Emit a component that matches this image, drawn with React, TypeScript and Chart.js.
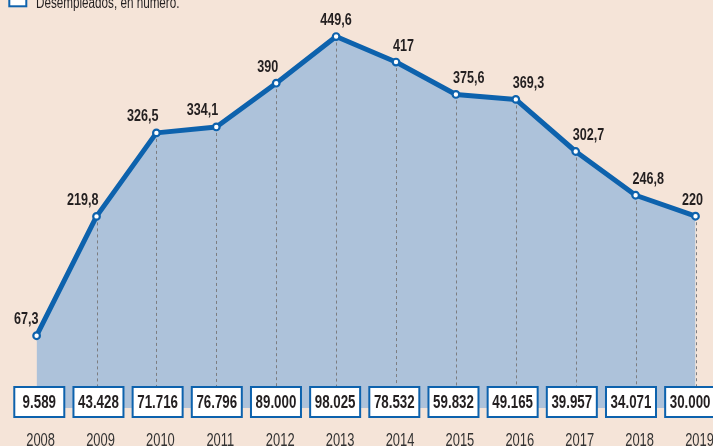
import React, { useEffect, useRef } from 'react';
import { Chart, registerables } from 'chart.js';

Chart.register(...registerables);

// ---- Data ----
const years = [2008, 2009, 2010, 2011, 2012, 2013, 2014, 2015, 2016, 2017, 2018, 2019];
const lineValues = [67.3, 219.8, 326.5, 334.1, 390, 449.6, 417, 375.6, 369.3, 302.7, 246.8, 220];
const unemployedCounts = [9589, 43428, 71716, 76796, 89000, 98025, 78532, 59832, 49165, 39957, 34071, 30000];
const legendLabel = 'Desempleados, en número.';

// ---- Styles ----
const BG = '#f5e4d8';
const AREA = '#adc2da';
const BLUE = '#0d62ad';
const TEXT = '#231f20';
const FONT = '"Liberation Sans", Arial, sans-serif';

function fmtDecimal(v: number): string {
  return Number.isInteger(v) ? String(v) : v.toFixed(1).replace('.', ',');
}
function fmtThousands(v: number): string {
  return String(v).replace(/\B(?=(\d{3})+(?!\d))/g, '.');
}

function drawText(
  ctx: CanvasRenderingContext2D,
  text: string,
  x: number,
  y: number,
  align: 'left' | 'right' | 'center',
  font: string,
  sx: number,
  color: string
) {
  ctx.save();
  ctx.font = font;
  ctx.fillStyle = color;
  ctx.textBaseline = 'alphabetic';
  ctx.textAlign = 'left';
  const w = ctx.measureText(text).width * sx;
  const left = align === 'left' ? x : align === 'right' ? x - w : x - w / 2;
  ctx.translate(left, y);
  ctx.scale(sx, 1);
  ctx.fillText(text, 0, 0);
  ctx.restore();
}

const decorPlugin = {
  id: 'decor',
  beforeDatasetsDraw(chart: any) {
    const ctx = chart.ctx as CanvasRenderingContext2D;
    const xs = chart.scales.x;
    const ys = chart.scales.y;
    ctx.save();
    ctx.strokeStyle = '#7d7d80';
    ctx.lineWidth = 1;
    ctx.setLineDash([3, 3]);
    years.forEach((yr, i) => {
      if (i === 0) return;
      const px = Math.round(xs.getPixelForValue(yr)) + 0.5;
      const py = ys.getPixelForValue(lineValues[i]);
      ctx.beginPath();
      ctx.moveTo(px, py);
      ctx.lineTo(px, ys.getPixelForValue(-25));
      ctx.stroke();
    });
    ctx.restore();
  },
  afterDatasetsDraw(chart: any) {
    const ctx = chart.ctx as CanvasRenderingContext2D;
    const xs = chart.scales.x;
    const ys = chart.scales.y;
    const xb = chart.scales.xb;
    const n = lineValues.length;
    // value labels
    lineValues.forEach((v, i) => {
      const px = xs.getPixelForValue(years[i]);
      const py = ys.getPixelForValue(v);
      const prev = i > 0 ? lineValues[i - 1] : null;
      const next = i < n - 1 ? lineValues[i + 1] : null;
      let align: 'left' | 'right' | 'center';
      let tx = px;
      if (i === n - 1) {
        align = 'center';
        tx = px - 3;
      } else if (prev === null || (prev < v && next !== null && next > v)) {
        align = 'right';
        tx = px + 2;
      } else if (prev < v && next !== null && next < v) {
        align = 'center';
      } else {
        align = 'left';
        tx = px - 3;
      }
      drawText(ctx, fmtDecimal(v), tx, py - 11.5, align, `bold 17px ${FONT}`, 0.74, TEXT);
    });
    // boxes
    unemployedCounts.forEach((c, i) => {
      const cx = xb.getPixelForValue(years[i]);
      ctx.save();
      ctx.fillStyle = '#ffffff';
      ctx.fillRect(cx - 25, 387, 50, 30);
      ctx.strokeStyle = BLUE;
      ctx.lineWidth = 2;
      ctx.setLineDash([]);
      ctx.strokeRect(cx - 25, 387, 50, 30);
      ctx.restore();
      drawText(ctx, fmtThousands(c), cx, 408, 'center', `bold 18px ${FONT}`, 0.74, TEXT);
    });
  },
  afterDraw(chart: any) {
    const ctx = chart.ctx as CanvasRenderingContext2D;
    const xs = chart.scales.x;
    years.forEach((yr) => {
      const px = xs.getPixelForValue(yr) + 4;
      drawText(ctx, String(yr), px, 446, 'center', `19px ${FONT}`, 0.68, '#333333');
    });
    // legend
    ctx.save();
    ctx.fillStyle = '#ffffff';
    ctx.fillRect(9.3, -10, 17, 16.3);
    ctx.strokeStyle = BLUE;
    ctx.lineWidth = 2;
    ctx.strokeRect(9.3, -10, 17, 16.3);
    ctx.restore();
    drawText(ctx, legendLabel, 36, 8, 'left', `16px ${FONT}`, 0.73, TEXT);
  },
};

export default function App() {
  const ref = useRef<HTMLCanvasElement | null>(null);
  useEffect(() => {
    if (!ref.current) return;
    const chart = new Chart(ref.current, {
      type: 'line',
      data: {
        datasets: [
          {
            data: years.map((yr, i) => ({ x: yr, y: lineValues[i] })),
            borderColor: BLUE,
            borderWidth: 5,
            backgroundColor: AREA,
            fill: { value: -25 },
            tension: 0,
            pointRadius: 3.3,
            pointBorderWidth: 2.2,
            pointBackgroundColor: '#ffffff',
            pointBorderColor: BLUE,
            borderJoinStyle: 'round',
            clip: false as any,
          },
        ],
      },
      options: {
        responsive: false,
        animation: false,
        events: [],
        layout: { padding: 0, autoPadding: false } as any,
        plugins: {
          legend: { display: false },
          tooltip: { enabled: false },
          filler: { drawTime: 'beforeDatasetsDraw' } as any,
        },
        scales: {
          x: { type: 'linear', display: false, min: 2007.389, max: 2019.292 },
          xb: { type: 'linear', display: false, axis: 'x', min: 2007.336, max: 2019.386 } as any,
          y: { type: 'linear', display: false, min: -73.6, max: 496.3 },
        },
      },
      plugins: [decorPlugin],
    });
    return () => chart.destroy();
  }, []);
  return (
    <div style={{ position: 'fixed', left: 0, top: 0, width: 713, height: 446, background: BG }}>
      <canvas ref={ref} width={713} height={446} style={{ display: 'block' }} />
    </div>
  );
}
